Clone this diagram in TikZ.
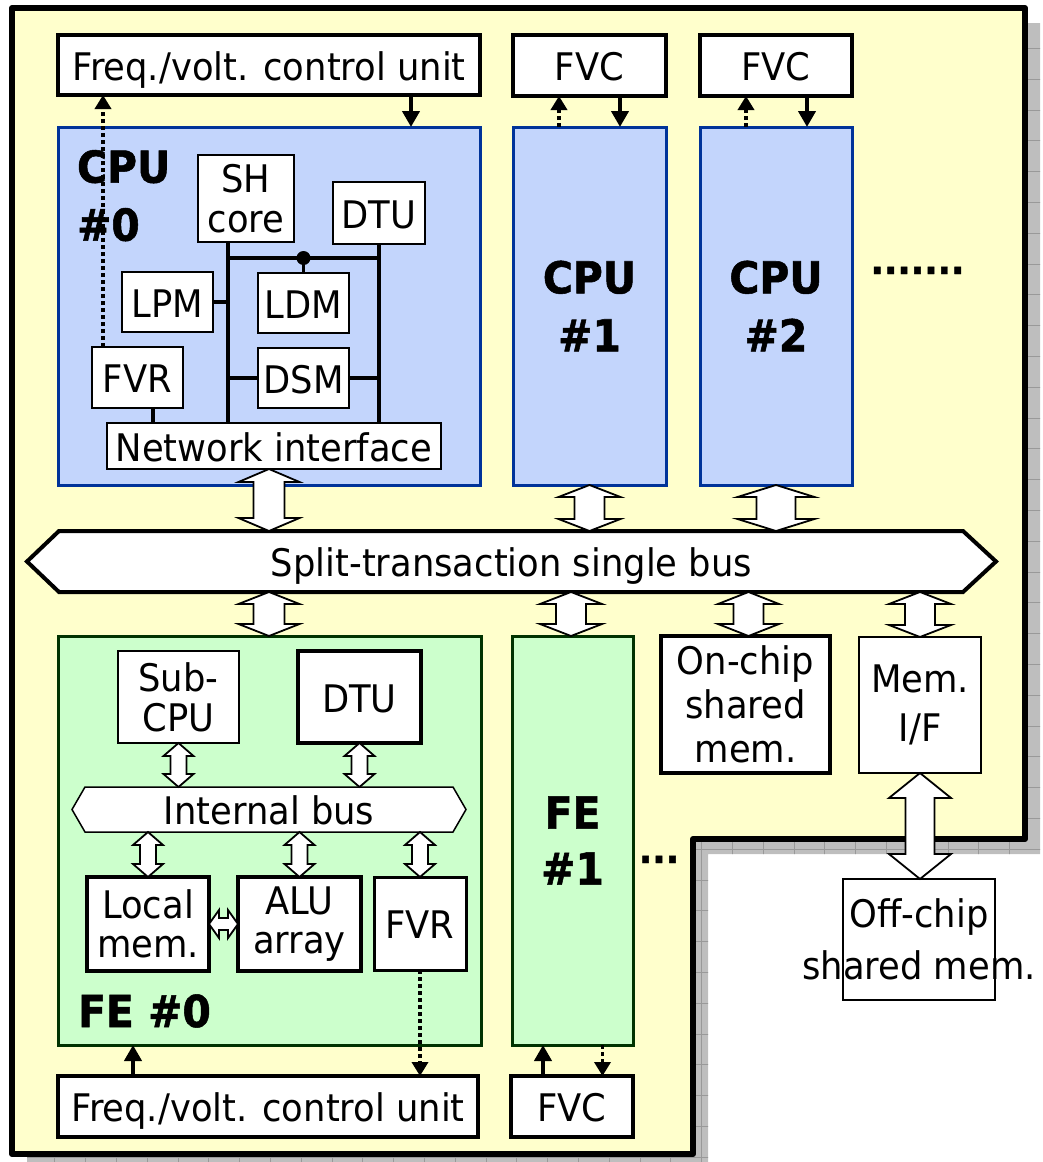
\documentclass[tikz,border=0pt]{standalone}
\usepackage{fontspec}
\setmainfont{DejaVu Sans}[FakeStretch=0.93, BoldFeatures={FakeBold=1.2}]
\usetikzlibrary{arrows.meta,calc}

\definecolor{chipyellow}{HTML}{FFFFCC}
\definecolor{cpufill}{HTML}{C3D5FC}
\definecolor{cpuedge}{HTML}{003399}
\definecolor{fefill}{HTML}{CCFFCC}
\definecolor{feedge}{HTML}{003300}
\definecolor{shadowfill}{HTML}{BEBEBE}
\definecolor{shadowline}{HTML}{999999}

\newcommand\rgfont{\fontsize{38pt}{40pt}\selectfont}
\newcommand\bdfont{\fontsize{44pt}{58pt}\selectfont\bfseries}

% vertical double block arrow: top point, bottom point, shaft half width, head half width, head length
\newcommand\vblock[5]{%
  \draw[blockarrow] let \p1=(#1), \p2=(#2) in
    (\x1,\y1) -- (\x1+#4pt,\y1-#5pt) -- (\x1+#3pt,\y1-#5pt) -- (\x1+#3pt,\y2+#5pt)
    -- (\x1+#4pt,\y2+#5pt) -- (\x1,\y2) -- (\x1-#4pt,\y2+#5pt) -- (\x1-#3pt,\y2+#5pt)
    -- (\x1-#3pt,\y1-#5pt) -- (\x1-#4pt,\y1-#5pt) -- cycle;}
% horizontal double block arrow: left point, right point, shaft half width, head half width, head length
\newcommand\hblock[5]{%
  \draw[blockarrow] let \p1=(#1), \p2=(#2) in
    (\x1,\y1) -- (\x1+#5pt,\y1+#4pt) -- (\x1+#5pt,\y1+#3pt) -- (\x2-#5pt,\y1+#3pt)
    -- (\x2-#5pt,\y1+#4pt) -- (\x2,\y1) -- (\x2-#5pt,\y1-#4pt) -- (\x2-#5pt,\y1-#3pt)
    -- (\x1+#5pt,\y1-#3pt) -- (\x1+#5pt,\y1-#4pt) -- cycle;}

\begin{document}
\begin{tikzpicture}[x=1pt,y=-1pt,
  every node/.style={inner sep=0pt, outer sep=0pt},
  plain/.style={draw=black, fill=white, line width=2pt, font=\rgfont, align=center},
  heavy/.style={plain, line width=3.5pt},
  heavier/.style={plain, line width=4.5pt},
  slim/.style={plain, line width=1.5pt},
  capc/.style={text height=30pt, text depth=0pt},
  cpubox/.style={draw=cpuedge, fill=cpufill, line width=3pt},
  febox/.style={draw=feedge, fill=fefill, line width=3pt},
  blockarrow/.style={draw=black, fill=white, line width=1.8pt, line join=miter},
  ctlarrow/.style={line width=4pt, -{Triangle[width=17pt,length=16pt]}},
  reqarrow/.style={line width=3.5pt, dash pattern=on 4pt off 3pt, -{Triangle[width=16pt,length=14pt]}},
  wire/.style={line width=3.2pt},
  chip/.style={draw=black, fill=chipyellow, line width=6pt, line join=round},
  shadowgrid/.style={draw=shadowline, line width=1pt}
]
\useasboundingbox (0,0) rectangle (1042,1162);

% drop shadow of the chip outline, with its grid texture
\begin{scope}
  \clip (0,0) rectangle (1042,1162);
  \clip (27,23) -- (1040,23) -- (1040,854) -- (708,854) -- (708,1175) -- (27,1175) -- cycle;
  \fill[shadowfill] (0,0) rectangle (1042,1162);
  \foreach \k in {0,...,34} { \draw[shadowgrid] (24+30.8*\k,0) -- (24+30.8*\k,1162); }
  \foreach \k in {0,...,37} { \draw[shadowgrid] (0,17.6+30.8*\k) -- (1042,17.6+30.8*\k); }
\end{scope}

% chip outline
\draw[chip] (12,8) -- (1025,8) -- (1025,839) -- (693,839) -- (693,1154) -- (12,1154) -- cycle;

% frequency / voltage controllers on top
\node[heavy, capc, minimum width=422pt, minimum height=60pt] (freq0) at (269,65) {Freq./volt. control unit};
\node[heavy, capc, minimum width=153pt, minimum height=61pt] (fvc1) at (589.5,65.5) {FVC};
\node[heavy, capc, minimum width=152pt, minimum height=61pt] (fvc2) at (776,65.5) {FVC};

% processor cores
\node[cpubox, minimum width=422pt, minimum height=358pt] (cpu0) at (269,306) {};
\node[cpubox, font=\bdfont, align=center, minimum width=153pt, minimum height=358pt] (cpu1) at (589.5,306) {CPU\\\#1};
\node[cpubox, font=\bdfont, align=center, minimum width=152pt, minimum height=358pt] (cpu2) at (776,306) {CPU\\\#2};
\node[font=\bdfont, align=left, anchor=north west] (cpu0lbl) at (77,150) {CPU\\\#0};
\node[font=\rgfont\bfseries, anchor=base] (moreCPU) at (917.5,274) {.......};

% inside CPU #0
\node[plain, minimum width=96pt, minimum height=87pt] (sh) at (246,198.5) {SH\\core};
\node[plain, capc, minimum width=92pt, minimum height=62pt] (dtu0) at (379,213) {DTU};
\node[plain, capc, minimum width=91pt, minimum height=60pt] (lpm) at (167.5,302) {LPM};
\node[plain, capc, minimum width=91pt, minimum height=60pt] (ldm) at (303.5,303) {LDM};
\node[plain, capc, minimum width=91pt, minimum height=60pt] (dsm) at (303.5,378) {DSM};
\node[plain, capc, minimum width=91pt, minimum height=61pt] (fvr0) at (137.5,377.5) {FVR};
\node[plain, capc, minimum width=334pt, minimum height=46pt] (ni) at (274,446) {Network interface};

\coordinate (busL) at (228,258);
\coordinate (busR) at (379,258);
\draw[wire] (busL |- sh.south) -- (busL |- ni.north);
\draw[wire] (dtu0.south) -- (dtu0.south |- ni.north);
\draw[wire] (busL) -- (busR);
\draw[wire] (ldm.north |- busL) -- (ldm.north);
\fill (ldm.north |- busL) circle[radius=7pt];
\draw[wire] (lpm.east) -- (busL |- lpm.east);
\draw[wire] (busL |- dsm.west) -- (dsm.west);
\draw[wire] (dsm.east) -- (busR |- dsm.east);
\draw[wire] ([xshift=15.5pt]fvr0.south) -- ([xshift=15.5pt]fvr0.south |- ni.north);

% control arrows of the CPUs
\draw[reqarrow] ([xshift=-34.5pt]fvr0.north) -- ([xshift=-34.5pt]fvr0.north |- freq0.south);
\draw[ctlarrow] ([xshift=142pt]freq0.south) -- ([xshift=142pt]freq0.south |- cpu0.north);
\draw[reqarrow] ([xshift=-30.5pt]cpu1.north) -- ([xshift=-30.5pt]cpu1.north |- fvc1.south);
\draw[ctlarrow] ([xshift=30.5pt]fvc1.south) -- ([xshift=30.5pt]fvc1.south |- cpu1.north);
\draw[reqarrow] ([xshift=-30pt]cpu2.north) -- ([xshift=-30pt]cpu2.north |- fvc2.south);
\draw[ctlarrow] ([xshift=31pt]fvc2.south) -- ([xshift=31pt]fvc2.south |- cpu2.north);

% shared bus
\node[minimum width=969pt, minimum height=61pt] (bus) at (511.5,561.5) {};
\draw[line width=4pt, fill=white, line join=miter]
  (bus.west) -- ([xshift=32pt]bus.north west) -- ([xshift=-33pt]bus.north east) -- (bus.east)
  -- ([xshift=-33pt]bus.south east) -- ([xshift=32pt]bus.south west) -- cycle;
\node[font=\rgfont, capc] (buslbl) at (bus.center) {Split-transaction single bus};

% lower row
\node[febox, minimum width=423pt, minimum height=409pt] (fe0) at (269.5,840.5) {};
\node[febox, font={\fontsize{44pt}{56pt}\selectfont\bfseries}, align=center, minimum width=121pt, minimum height=409pt] (fe1) at (572.5,840.5) {FE\\\#1};
\node[font=\rgfont\bfseries, anchor=base] (moreFE) at (659,863) {...};
\node[heavy, font={\fontsize{38pt}{44pt}\selectfont}, minimum width=169pt, minimum height=137pt] (onchip) at (745.5,704.5) {On-chip\\shared\\mem.};
\node[slim, font={\fontsize{38pt}{49pt}\selectfont}, minimum width=122pt, minimum height=136pt] (memif) at (920,705) {Mem.\\I/F};
\node[slim, minimum width=152pt, minimum height=121pt] (offchip) at (919,939.5) {};
\node[font={\fontsize{38pt}{52pt}\selectfont}, align=center] (offlbl) at (offchip.center) {Off-chip\\shared mem.};

% inside FE #0
\node[plain, minimum width=121pt, minimum height=92pt] (subcpu) at (178.5,697) {Sub-\\CPU};
\node[plain, capc, line width=4pt, minimum width=123pt, minimum height=92pt] (dtu1) at (359.5,697) {DTU};
\node[minimum width=394pt, minimum height=45pt] (ibus) at (269,809.5) {};
\draw[line width=1.5pt, fill=white, line join=miter]
  (ibus.west) -- ([xshift=13pt]ibus.north west) -- ([xshift=-13pt]ibus.north east) -- (ibus.east)
  -- ([xshift=-13pt]ibus.south east) -- ([xshift=13pt]ibus.south west) -- cycle;
\node[font=\rgfont, capc] (ibuslbl) at (ibus.center) {Internal bus};
\node[heavier, font={\fontsize{38pt}{39pt}\selectfont}, minimum width=122pt, minimum height=94pt] (lmem) at (148,924) {Local\\mem.};
\node[heavier, font={\fontsize{38pt}{39pt}\selectfont}, minimum width=123pt, minimum height=94pt] (alu) at (299.5,924) {ALU\\array};
\node[plain, capc, line width=3pt, minimum width=92pt, minimum height=93pt] (fvr1) at (420,923.5) {FVR};
\node[font=\bdfont, anchor=base west] (fe0lbl) at (78,1027) {FE \#0};

% frequency / voltage controllers at the bottom
\node[heavy, capc, minimum width=420pt, minimum height=61pt] (freqB) at (268,1106.5) {Freq./volt. control unit};
\node[heavy, capc, minimum width=122pt, minimum height=61pt] (fvcB) at (572,1106.5) {FVC};
\draw[ctlarrow] ([xshift=-135pt]freqB.north) -- ([xshift=-135pt]freqB.north |- fe0.south);
\draw[reqarrow] (fvr1.south) -- (fvr1.south |- freqB.north);
\draw[ctlarrow] ([xshift=-29pt]fvcB.north) -- ([xshift=-29pt]fvcB.north |- fe1.south);
\draw[reqarrow] ([xshift=30pt]fe1.south) -- ([xshift=30pt]fe1.south |- fvcB.north);

% bus connections
\coordinate (xa0) at (269,0);
\coordinate (xfe1) at (571,0);
\coordinate (xon) at (748.5,0);
\vblock{xa0 |- ni.south}{xa0 |- bus.north}{15.5}{30.5}{13}
\vblock{cpu1.south}{cpu1.south |- bus.north}{15}{31}{12}
\vblock{cpu2.south}{cpu2.south |- bus.north}{19.5}{38.5}{12}
\vblock{xa0 |- bus.south}{xa0 |- fe0.north}{15.5}{30.5}{12}
\vblock{xfe1 |- bus.south}{xfe1 |- fe1.north}{15}{31}{12}
\vblock{xon |- bus.south}{xon |- onchip.north}{15}{30.5}{12}
\vblock{memif.north |- bus.south}{memif.north}{15}{31}{12}
\vblock{memif.south}{memif.south |- offchip.north}{14.5}{31}{25}

% FE #0 internal connections
\vblock{subcpu.south}{subcpu.south |- ibus.north}{8}{15}{13}
\vblock{dtu1.south}{dtu1.south |- ibus.north}{8}{15}{13}
\vblock{lmem.north |- ibus.south}{lmem.north}{8}{15}{13}
\vblock{alu.north |- ibus.south}{alu.north}{8}{15}{13}
\vblock{fvr1.north |- ibus.south}{fvr1.north}{8}{15}{13}
\hblock{lmem.east}{alu.west}{6}{14}{10}
\end{tikzpicture}
\end{document}
